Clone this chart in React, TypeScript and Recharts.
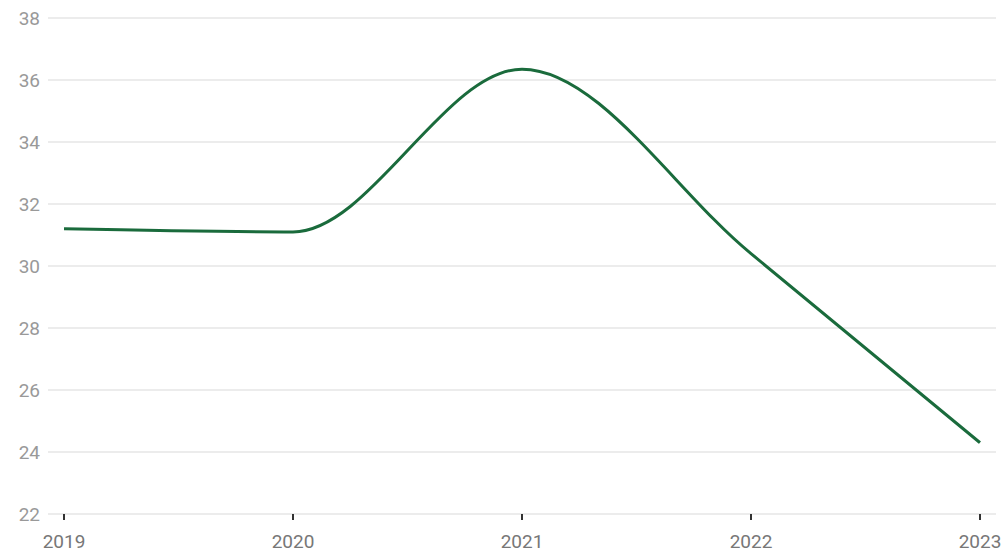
import React from 'react';
import { LineChart, Line, XAxis, YAxis, CartesianGrid } from 'recharts';

const years = ['2019', '2020', '2021', '2022', '2023'];
const values = [31.2, 31.1, 36.35, 30.4, 24.3];
const yTicks = [22, 24, 26, 28, 30, 32, 34, 36, 38];

const data = years.map((year, i) => ({ year, value: values[i] }));

export default function App() {
  return (
    <div style={{ position: 'absolute', left: 0, top: 0, fontFamily: 'Roboto, sans-serif' }}>
      <LineChart width={1004} height={552} data={data} margin={{ top: 18, right: 8, bottom: 8, left: 0 }}>
        <CartesianGrid vertical={false} stroke="#e6e6e6" strokeWidth={1.5} />
        <XAxis
          dataKey="year"
          axisLine={false}
          tickLine={{ stroke: '#333', strokeWidth: 2 }}
          tickSize={6}
          tickMargin={15}
          padding={{ left: 16, right: 16 }}
          tick={{ fill: '#777', fontSize: 19 }}
          height={30}
        />
        <YAxis
          domain={[22, 38]}
          ticks={yTicks}
          axisLine={false}
          tickLine={false}
          width={48}
          tick={{ fill: '#999', fontSize: 19 }}
        />
        <Line
          type="monotone"
          dataKey="value"
          stroke="#1a6b3c"
          strokeWidth={3}
          dot={false}
          isAnimationActive={false}
        />
      </LineChart>
    </div>
  );
}
